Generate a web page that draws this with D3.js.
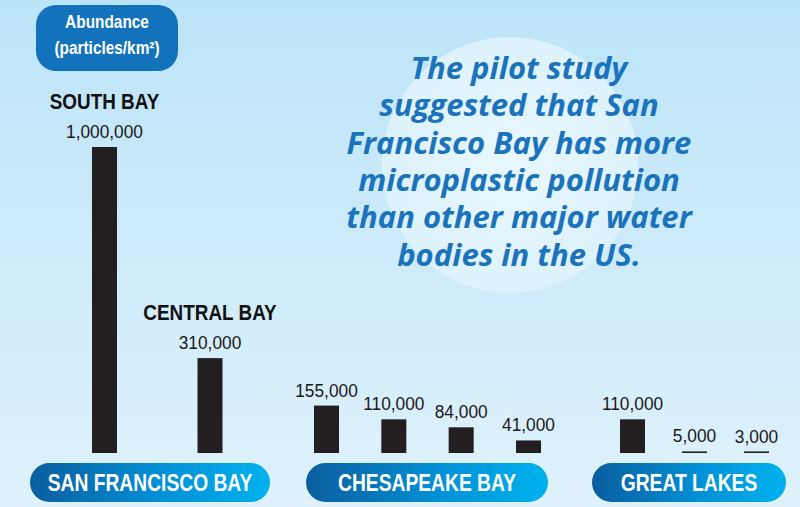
<!DOCTYPE html>
<html>
<head>
<meta charset="utf-8">
<script src="https://cdn.jsdelivr.net/npm/d3@7"></script>
<style>
  html, body { margin: 0; padding: 0; overflow: hidden; }
  svg { display: block; }
</style>
</head>
<body>
<svg id="chart"></svg>
<script>
// data
const groups = ['SAN FRANCISCO BAY', 'CHESAPEAKE BAY', 'GREAT LAKES'];
const sites = ['South Bay', 'Central Bay', 'CB1', 'CB2', 'CB3', 'CB4', 'GL1', 'GL2', 'GL3'];
const siteNames = ['SOUTH BAY', 'CENTRAL BAY', '', '', '', '', '', '', ''];
const siteGroup = [0, 0, 1, 1, 1, 1, 2, 2, 2];
const values = [1000000, 310000, 155000, 110000, 84000, 41000, 110000, 5000, 3000];
const unitLines = ['Abundance', '(particles/km²)'];
const noteLines = ['The pilot study', 'suggested that San', 'Francisco Bay has more',
  'microplastic pollution', 'than other major water', 'bodies in the US.'];

const width = 800;
const height = 507;
const baseline = 453;
const barWidth = 25;
// where the bars of each group sit, and where each group pill sits
const groupBarRange = [[104.5, 210], [326.5, 528.5], [632.5, 756.5]];
const pillRange = [[30, 270], [306, 548], [592, 786]];
const sans = '"Liberation Sans", Arial, sans-serif';

const svg = d3.select('#chart')
  .attr('width', width)
  .attr('height', height);

const defs = svg.append('defs');

const bg = defs.append('linearGradient')
  .attr('id', 'bg')
  .attr('x1', 0).attr('y1', 0).attr('x2', 0).attr('y2', 1);
bg.append('stop').attr('offset', '0%').attr('stop-color', '#bce4f8');
bg.append('stop').attr('offset', '100%').attr('stop-color', '#dff2fc');

const pill = defs.append('linearGradient')
  .attr('id', 'pill')
  .attr('x1', 0).attr('y1', 0).attr('x2', 1).attr('y2', 0);
pill.append('stop').attr('offset', '0%').attr('stop-color', '#0b5e9e');
pill.append('stop').attr('offset', '55%').attr('stop-color', '#0290d6');
pill.append('stop').attr('offset', '100%').attr('stop-color', '#00b2ee');

const glow = defs.append('radialGradient').attr('id', 'glow');
glow.append('stop').attr('offset', '0%').attr('stop-color', '#e8f7fd');
glow.append('stop').attr('offset', '100%').attr('stop-color', '#ddf2fc');

svg.append('rect')
  .attr('width', width)
  .attr('height', height)
  .attr('fill', 'url(#bg)');

// soft circle behind the note
svg.append('circle')
  .attr('cx', 510)
  .attr('cy', 165)
  .attr('r', 128)
  .attr('fill', 'url(#glow)');

// scales
const y = d3.scaleLinear()
  .domain([0, 1000000])
  .range([baseline, 147]);

const inner = groups.map((g, gi) => d3.scalePoint()
  .domain(sites.filter((s, i) => siteGroup[i] === gi))
  .range(groupBarRange[gi]));

const cx = i => inner[siteGroup[i]](sites[i]);
const fmt = d3.format(',');

// bars
svg.append('g').selectAll('rect')
  .data(values)
  .join('rect')
  .attr('x', (d, i) => cx(i) - barWidth / 2)
  .attr('y', d => Math.min(y(d), baseline - 1.6))
  .attr('width', barWidth)
  .attr('height', d => Math.max(baseline - y(d), 1.6))
  .attr('fill', '#231f20');

// value labels
svg.append('g').selectAll('text')
  .data(values)
  .join('text')
  .attr('transform', (d, i) => `translate(${cx(i)},${y(d) - 9}) scale(0.93,1)`)
  .attr('text-anchor', 'middle')
  .attr('font-family', sans)
  .attr('font-size', 18.6)
  .attr('fill', '#1a1718')
  .text(d => fmt(d));

// site names
svg.append('g').selectAll('text')
  .data(values)
  .join('text')
  .attr('transform', (d, i) => `translate(${cx(i)},${y(d) - 38.5}) scale(0.84,1)`)
  .attr('text-anchor', 'middle')
  .attr('font-family', sans)
  .attr('font-weight', 'bold')
  .attr('font-size', 22.5)
  .attr('fill', '#111')
  .text((d, i) => siteNames[i]);

// group pills
const gp = svg.append('g').selectAll('g')
  .data(groups)
  .join('g');

gp.append('rect')
  .attr('x', (d, i) => pillRange[i][0])
  .attr('y', 463)
  .attr('width', (d, i) => pillRange[i][1] - pillRange[i][0])
  .attr('height', 39)
  .attr('rx', 19.5)
  .attr('fill', 'url(#pill)');

gp.append('text')
  .attr('transform', (d, i) => `translate(${(pillRange[i][0] + pillRange[i][1]) / 2},491) scale(0.82,1)`)
  .attr('text-anchor', 'middle')
  .attr('font-family', sans)
  .attr('font-weight', 'bold')
  .attr('font-size', 23.5)
  .attr('fill', '#fff')
  .text(d => d);

// unit badge
svg.append('rect')
  .attr('x', 36)
  .attr('y', 5)
  .attr('width', 142)
  .attr('height', 66)
  .attr('rx', 20)
  .attr('fill', '#1272bc');

svg.append('g').selectAll('text')
  .data(unitLines)
  .join('text')
  .attr('transform', (d, i) => `translate(107,${28 + i * 26}) scale(0.88,1)`)
  .attr('text-anchor', 'middle')
  .attr('font-family', sans)
  .attr('font-weight', 'bold')
  .attr('font-size', 17.5)
  .attr('fill', '#fff')
  .text(d => d);

// note, one text block with a line per tspan
svg.append('text')
  .attr('text-anchor', 'middle')
  .attr('font-family', '"Open Sans", sans-serif')
  .attr('font-weight', 'bold')
  .attr('font-style', 'italic')
  .attr('font-size', 31)
  .attr('fill', '#1a73bb')
  .selectAll('tspan')
  .data(noteLines)
  .join('tspan')
  .attr('x', 519)
  .attr('y', (d, i) => 79 + i * 37.3)
  .text(d => d);
</script>
</body>
</html>
